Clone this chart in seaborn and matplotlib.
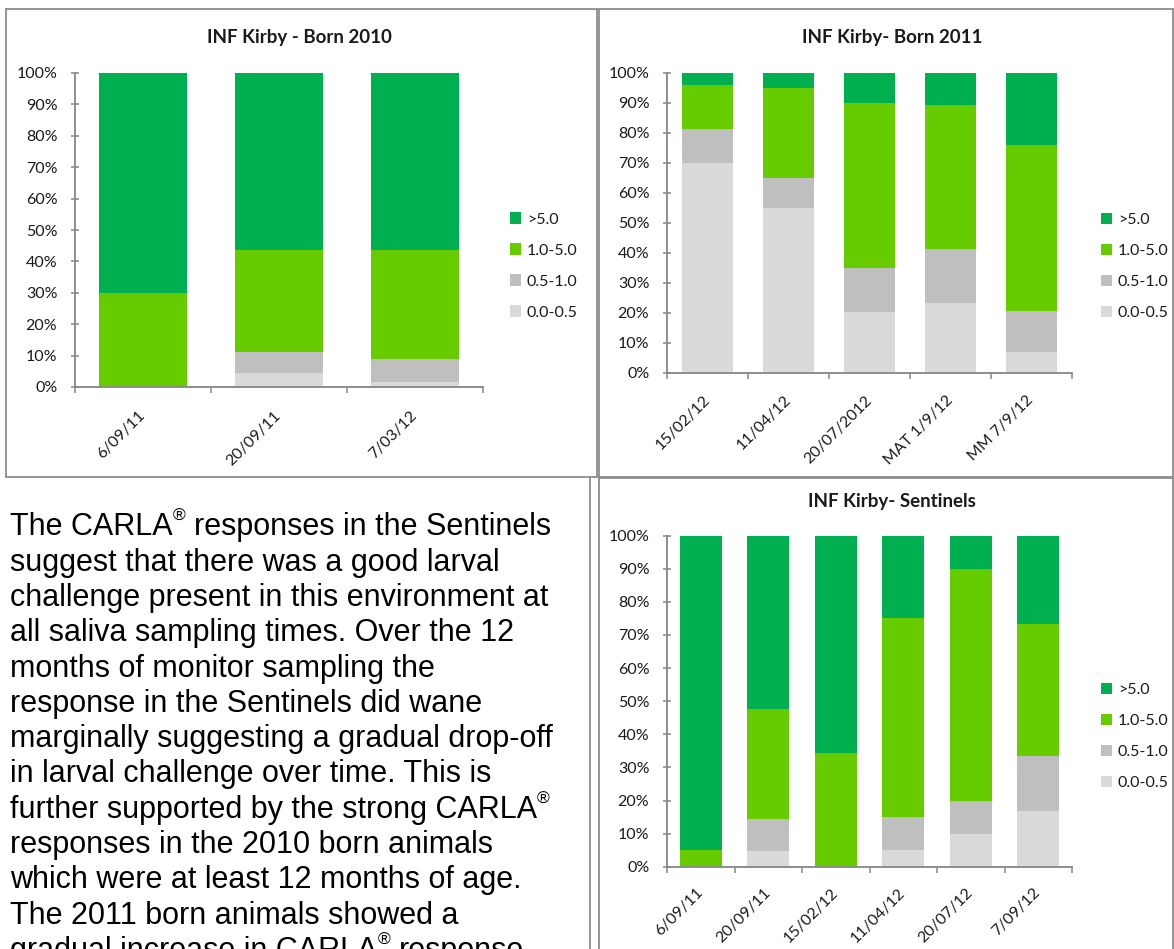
import numpy as np
import pandas as pd
import matplotlib
matplotlib.use("Agg")
import matplotlib.pyplot as plt
import seaborn as sns
from matplotlib.patches import Patch
from matplotlib.lines import Line2D

# ---- data: percentage of animals per CARLA band ----
BANDS = [">5.0", "1.0-5.0", "0.5-1.0", "0.0-0.5"]
BAND_COLORS = ["#00B050", "#66CC00", "#BFBFBF", "#D9D9D9"]

dates_2010 = ["6/09/11", "20/09/11", "7/03/12"]
band_00_05_2010 = [0.0, 4.3, 1.5]
band_05_10_2010 = [0.0, 6.9, 7.5]
band_10_50_2010 = [30.0, 32.3, 34.5]
band_50_2010 = [70.0, 56.5, 56.5]

dates_2011 = ["15/02/12", "11/04/12", "20/07/2012", "MAT 1/9/12", "MM 7/9/12"]
band_00_05_2011 = [70.0, 55.0, 20.2, 23.2, 6.9]
band_05_10_2011 = [11.2, 10.0, 14.8, 18.1, 13.8]
band_10_50_2011 = [14.8, 30.0, 55.0, 48.2, 55.2]
band_50_2011 = [4.0, 5.0, 10.0, 10.5, 24.1]

dates_sent = ["6/09/11", "20/09/11", "15/02/12", "11/04/12", "20/07/12", "7/09/12"]
band_00_05_sent = [0.0, 4.8, 0.0, 5.0, 10.0, 16.7]
band_05_10_sent = [0.0, 9.5, 0.0, 10.0, 10.0, 16.7]
band_10_50_sent = [5.0, 33.3, 34.4, 60.0, 70.0, 40.0]
band_50_sent = [95.0, 52.4, 65.6, 25.0, 10.0, 26.6]

TITLES = ["INF Kirby - Born 2010", "INF Kirby- Born 2011", "INF Kirby- Sentinels"]

PARAGRAPH = [
    "The CARLA® responses in the Sentinels",
    "suggest that there was a good larval",
    "challenge present in this environment at",
    "all saliva sampling times. Over the 12",
    "months of monitor sampling the",
    "response in the Sentinels did wane",
    "marginally suggesting a gradual drop-off",
    "in larval challenge over time. This is",
    "further supported by the strong CARLA®",
    "responses in the 2010 born animals",
    "which were at least 12 months of age.",
    "The 2011 born animals showed a",
    "gradual increase in CARLA® response",
]

W, H = 1174, 949
sns.set_theme(style="white")
plt.rcParams["font.family"] = ["Lato", "DejaVu Sans"]
AX_GRAY = "#868686"
FRAME_GRAY = "#8c8c8c"

fig = plt.figure(figsize=(W / 100, H / 100), dpi=100)
fig.patch.set_facecolor("white")


def fx(px):
    return px / W


def fy(py):
    return 1 - py / H


def stacked_frame(dates, b0, b1, b2, b3):
    """Cumulative heights so that each band is drawn over the taller ones."""
    c0 = np.array(b0)
    c1 = c0 + np.array(b1)
    c2 = c1 + np.array(b2)
    c3 = c2 + np.array(b3)
    rows = []
    for band, cum in zip(BANDS, [c3, c2, c1, c0]):
        for d, v in zip(dates, cum):
            rows.append({"date": d, "band": band, "cum": v})
    return pd.DataFrame(rows)


def draw_chart(rect, dates, bands, width, legend_xy, label_pad):
    ax = fig.add_axes(rect)
    df = stacked_frame(dates, *bands)
    sns.barplot(data=df, x="date", y="cum", hue="band", hue_order=BANDS,
                order=dates, palette=dict(zip(BANDS, BAND_COLORS)),
                dodge=False, width=width, saturation=1, errorbar=None,
                legend=False, ax=ax, linewidth=0)
    n = len(dates)
    ax.set_xlim(-0.5, n - 0.5)
    ax.set_ylim(0, 100)
    ax.set_xlabel("")
    ax.set_ylabel("")
    ax.set_yticks(np.arange(0, 101, 10))
    ax.set_yticklabels([f"{v}%" for v in range(0, 101, 10)])
    ax.set_xticks(np.arange(n + 1) - 0.5)
    ax.set_xticklabels([])
    ax.set_xticks(np.arange(n), minor=True)
    ax.set_xticklabels(dates, minor=True, rotation=45, ha="right",
                       va="center", rotation_mode="anchor")
    for s in ["top", "right"]:
        ax.spines[s].set_visible(False)
    for s in ["left", "bottom"]:
        ax.spines[s].set_color(AX_GRAY)
        ax.spines[s].set_linewidth(1.3)
    ax.tick_params(axis="y", which="major", direction="inout", length=5.5,
                   width=1.1, color=AX_GRAY, labelsize=11.5, pad=10,
                   labelcolor="#1a1a1a", left=True)
    ax.tick_params(axis="x", which="major", direction="out", length=4.2,
                   width=1.1, color=AX_GRAY, bottom=True)
    ax.tick_params(axis="x", which="minor", length=0, labelsize=11.5,
                   pad=label_pad, labelcolor="#1a1a1a", bottom=True)
    ax.grid(False)
    handles = [Patch(facecolor=c, edgecolor="none") for c in BAND_COLORS]
    ax.legend(handles=handles, labels=BANDS, loc="center left",
              bbox_to_anchor=legend_xy, bbox_transform=fig.transFigure,
              frameon=False, fontsize=11.5, handlelength=0.7,
              handleheight=0.7, handletextpad=0.35, labelspacing=1.05,
              borderpad=0, borderaxespad=0, labelcolor="#1a1a1a")
    return ax


# panel frames
def frame(x0, y0, x1, y1, sides="ltrb"):
    segs = {"l": ([x0, x0], [y0, y1]), "r": ([x1, x1], [y0, y1]),
            "t": ([x0, x1], [y0, y0]), "b": ([x0, x1], [y1, y1])}
    for s in sides:
        xs, ys = segs[s]
        fig.add_artist(Line2D([fx(v) for v in xs], [fy(v) for v in ys],
                              color=FRAME_GRAY, lw=1.3,
                              transform=fig.transFigure))


frame(5.7, 9.3, 597, 477.3)
frame(598.5, 9.3, 1173, 477.3)
frame(598.5, 478.5, 1173, 960, sides="ltr")
frame(589.5, 478.5, 589.5, 960, sides="l")

draw_chart([fx(75), fy(387), fx(408), 314 / H], dates_2010,
           (band_00_05_2010, band_05_10_2010, band_10_50_2010, band_50_2010),
           0.647, (fx(510), fy(266)), 19)
draw_chart([fx(667), fy(373), fx(405), 300 / H], dates_2011,
           (band_00_05_2011, band_05_10_2011, band_10_50_2011, band_50_2011),
           0.637, (fx(1101), fy(266.3)), 18)
draw_chart([fx(667), fy(866.7), fx(405), 331 / H], dates_sent,
           (band_00_05_sent, band_05_10_sent, band_10_50_sent, band_50_sent),
           0.628, (fx(1101), fy(736.3)), 17)

title_kw = dict(ha="center", va="center", fontsize=13.5, fontweight="bold",
                color="#1a1a1a")
fig.text(fx(299), fy(37), TITLES[0], **title_kw)
fig.text(fx(892), fy(37), TITLES[1], **title_kw)
fig.text(fx(892), fy(501), TITLES[2], **title_kw)

# paragraph with superscript registered marks
renderer = fig.canvas.get_renderer()
PFONT = ["Liberation Sans", "DejaVu Sans"]
PSIZE = 22


def text_width(s, size):
    t1 = fig.text(0, 0, "I" + s, fontsize=size, family=PFONT)
    t2 = fig.text(0, 0, "I", fontsize=size, family=PFONT)
    w = t1.get_window_extent(renderer).width - t2.get_window_extent(renderer).width
    t1.remove()
    t2.remove()
    return w


space_w = text_width(" ", PSIZE)
for i, line in enumerate(PARAGRAPH):
    base = 535.3 + i * 35.3
    x = 9.6
    parts = line.split("®")
    for j, part in enumerate(parts):
        if part.startswith(" "):
            x += space_w
            part = part[1:]
        if part:
            fig.text(fx(x), fy(base), part, fontsize=PSIZE, family=PFONT,
                     va="baseline", ha="left", color="black")
            x += text_width(part, PSIZE)
        if j < len(parts) - 1:
            fig.text(fx(x + 0.5), fy(base - 14), "®", fontsize=12.5,
                     family=PFONT, va="baseline", ha="left", color="black")
            x += text_width("®", 12.5) + 0.5

fig.savefig("out.png", dpi=100, facecolor="white")
